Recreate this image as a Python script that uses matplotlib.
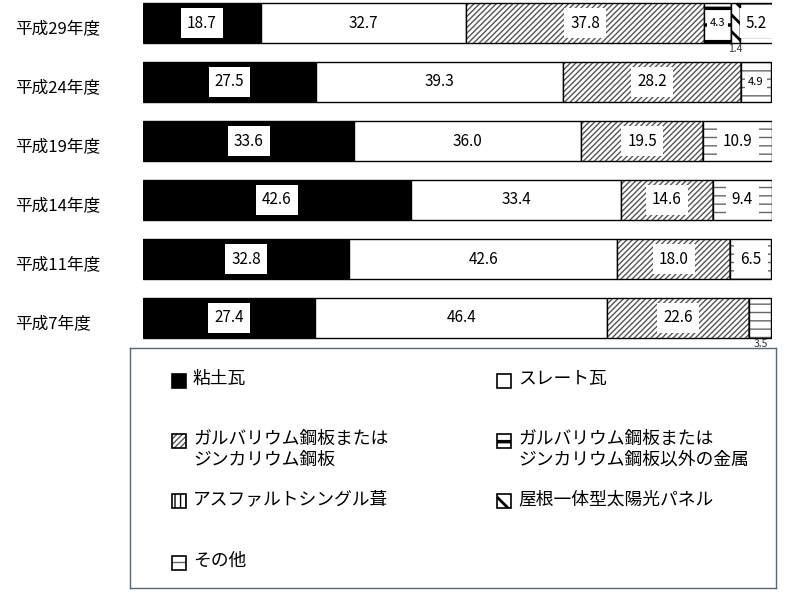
import matplotlib
matplotlib.use("Agg")
import matplotlib.pyplot as plt
from matplotlib.patches import Rectangle
import numpy as np

plt.rcParams['font.family'] = ['Noto Sans CJK JP', 'DejaVu Sans']
plt.rcParams['hatch.linewidth'] = 1.0

# データ(%)
years = ['平成29年度', '平成24年度', '平成19年度', '平成14年度', '平成11年度', '平成7年度']
clay = [18.7, 27.5, 33.6, 42.6, 32.8, 27.4]          # 粘土瓦
slate = [32.7, 39.3, 36.0, 33.4, 42.6, 46.4]         # スレート瓦
galva = [37.8, 28.2, 19.5, 14.6, 18.0, 22.6]         # ガルバリウム/ジンカリウム鋼板
metal = [4.3, 0, 0, 0, 0, 0]                         # それ以外の金属
asphalt = [0, 0, 0, 0, 0, 0]                         # アスファルトシングル葺
solar = [1.4, 0, 0, 0, 0, 0]                         # 屋根一体型太陽光パネル
other = [5.2, 4.9, 10.9, 9.4, 6.5, 3.5]              # その他

series = [clay, slate, galva, metal, asphalt, solar, other]
names = ['粘土瓦', 'スレート瓦', 'ガルバリウム鋼板または\nジンカリウム鋼板',
         'ガルバリウム鋼板または\nジンカリウム鋼板以外の金属', 'アスファルトシングル葺',
         '屋根一体型太陽光パネル', 'その他']
# (塗り, ハッチ, ハッチ色, ハッチ線幅)
styles = [('black', None, 'black', 1.0),
          ('white', None, 'black', 1.0),
          ('white', '//////', '#555555', 1.0),
          ('white', '-', 'black', 2.5),
          ('white', '|||', 'black', 1.0),
          ('white', '\\\\', 'black', 2.0),
          ('white', '--', '#666666', 1.0)]

W, H = 793, 594
fig = plt.figure(figsize=(W / 100, H / 100), dpi=100)

# 棒グラフ領域(ピクセル単位で配置)
x0, x1 = 143, 772
ax = fig.add_axes([x0 / W, (H - 348) / H, (x1 - x0) / W, 348 / H])
row_px = 59
ax.set_xlim(0, 100)
ax.set_ylim((348 - 23) / row_px, -23 / row_px)
ax.axis('off')

y = np.arange(len(years))
bar_h = 40 / row_px
left = np.zeros(len(years))
for vals, (fc, hatch, hc, hlw) in zip(series, styles):
    vals = np.array(vals, dtype=float)
    with plt.rc_context({'hatch.linewidth': hlw}):
        ax.barh(y, vals, left=left, height=bar_h, color=fc, hatch=hatch,
                edgecolor=hc, linewidth=0)
    ax.barh(y, vals, left=left, height=bar_h, fill=False,
            edgecolor='black', linewidth=1.0)
    for i, v in enumerate(vals):
        if v <= 0:
            continue
        cx = left[i] + v / 2
        if v < 4:
            ax.text(cx, y[i] + bar_h / 2 + 0.02, f"{v:.1f}", ha='center', va='top',
                    fontsize=7.5, color='#333333')
        else:
            fs = 8 if v < 5 else 11
            pad = 0.25 if v < 5 else 0.4
            ax.text(cx, y[i], f"{v:.1f}", ha='center', va='center', fontsize=fs,
                    bbox=dict(boxstyle=f'square,pad={pad}', fc='white', ec='none'))
    left += vals

for i, name in enumerate(years):
    ax.text(-(x0 - 15) / (x1 - x0) * 100, y[i] + 0.1, name, ha='left', va='center',
            fontsize=12)

# 凡例(枠付き、手動配置)
lx, ly, lw, lh = 130, 348, 646, 240
lax = fig.add_axes([lx / W, (H - ly - lh) / H, lw / W, lh / H])
lax.set_xlim(0, lw)
lax.set_ylim(lh, 0)
lax.set_xticks([])
lax.set_yticks([])
for s in lax.spines.values():
    s.set_color('#56677a')
    s.set_linewidth(1.0)

cols = [42, 367]
rows = [33, 93, 153, 215]
slots = [(0, 0), (1, 0), (0, 1), (1, 1), (0, 2), (1, 2), (0, 3)]
icon = 14
for (c, r), name, (fc, hatch, hc, hlw) in zip(slots, names, styles):
    ix, iy = cols[c], rows[r]
    with plt.rc_context({'hatch.linewidth': hlw}):
        lax.add_patch(Rectangle((ix, iy - icon / 2), icon, icon, facecolor=fc,
                                hatch=hatch, edgecolor=hc, linewidth=0))
    lax.add_patch(Rectangle((ix, iy - icon / 2), icon, icon, fill=False,
                            edgecolor='black', linewidth=1.2))
    lax.text(ix + 21, iy - 11, name, ha='left', va='top', fontsize=12.8,
             linespacing=1.2)

fig.savefig('out.png', dpi=100)
